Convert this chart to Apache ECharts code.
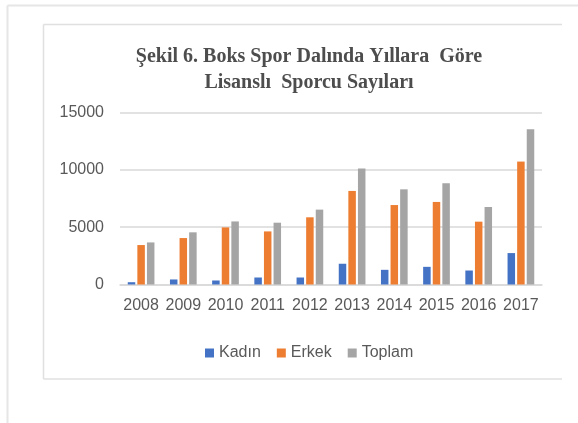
<!DOCTYPE html>
<html>
<head>
<meta charset="utf-8">
<script src="https://cdn.jsdelivr.net/npm/echarts@6/dist/echarts.min.js"></script>
<style>
html,body{margin:0;padding:0;background:#fff;}
#c{width:578px;height:423px;}
</style>
</head>
<body>
<div id="c"></div>
<script>
var years = ['2008','2009','2010','2011','2012','2013','2014','2015','2016','2017'];
var kadin = [200, 440, 350, 610, 610, 1810, 1280, 1540, 1220, 2740];
var erkek = [3440, 4050, 4980, 4630, 5860, 8160, 6930, 7200, 5480, 10720];
var toplam = [3670, 4550, 5500, 5390, 6530, 10110, 8300, 8830, 6760, 13550];
var yTicks = [0, 5000, 10000, 15000];

var chart = echarts.init(document.getElementById('c'), null, {renderer: 'canvas'});
var txt = '#595959';
var lineC = '#d9d9d9';
chart.setOption({
  animation: false,
  backgroundColor: '#ffffff',
  title: {
    text: 'Şekil 6. Boks Spor Dalında Yıllara  Göre\nLisanslı  Sporcu Sayıları',
    left: 304,
    top: 39,
    textAlign: 'center',
    textStyle: {
      fontFamily: 'Liberation Serif',
      fontWeight: 'bold',
      fontSize: 20,
      lineHeight: 26,
      color: '#4d4d4d'
    }
  },
  graphic: [
    {type: 'line', shape: {x1: 7.5, y1: 5.5, x2: 578, y2: 5.5}, style: {stroke: '#e6e6e6', lineWidth: 2}},
    {type: 'line', shape: {x1: 7.5, y1: 5.5, x2: 7.5, y2: 423}, style: {stroke: '#e6e6e6', lineWidth: 2}},
    {type: 'line', shape: {x1: 43.5, y1: 24.5, x2: 562, y2: 24.5}, style: {stroke: '#e0e0e0', lineWidth: 1.5}},
    {type: 'line', shape: {x1: 43.5, y1: 24.5, x2: 43.5, y2: 379}, style: {stroke: '#e0e0e0', lineWidth: 1.5}},
    {type: 'line', shape: {x1: 43.5, y1: 379, x2: 562, y2: 379}, style: {stroke: '#e0e0e0', lineWidth: 1.5}}
  ],
  legend: {
    left: 200,
    top: 340,
    itemWidth: 9,
    itemHeight: 9,
    itemGap: 16,
    icon: 'rect',
    textStyle: {fontFamily: 'Liberation Sans', fontSize: 16, color: txt},
    data: ['Kadın', 'Erkek', 'Toplam']
  },
  grid: {left: 120, right: 36, top: 112.5, bottom: 138.5, containLabel: false},
  xAxis: {
    type: 'category',
    data: years,
    axisLine: {show: true, lineStyle: {color: lineC, width: 1.5}},
    axisTick: {show: false},
    axisLabel: {color: txt, fontFamily: 'Liberation Sans', fontSize: 16, margin: 13, interval: 0}
  },
  yAxis: {
    type: 'value',
    min: yTicks[0],
    max: yTicks[yTicks.length - 1],
    interval: yTicks[1] - yTicks[0],
    axisLine: {show: false},
    axisTick: {show: false},
    splitLine: {lineStyle: {color: lineC, width: 1.5}},
    axisLabel: {color: txt, fontFamily: 'Liberation Sans', fontSize: 16, margin: 16,
      formatter: function (v) { return String(v); }}
  },
  series: [
    {name: 'Kadın', type: 'bar', data: kadin, barWidth: 7.5, barGap: '28%', itemStyle: {color: '#4472C4'}},
    {name: 'Erkek', type: 'bar', data: erkek, barWidth: 7.5, barGap: '28%', itemStyle: {color: '#ED7D31'}},
    {name: 'Toplam', type: 'bar', data: toplam, barWidth: 7.5, barGap: '28%', itemStyle: {color: '#A5A5A5'}}
  ]
});
</script>
</body>
</html>
